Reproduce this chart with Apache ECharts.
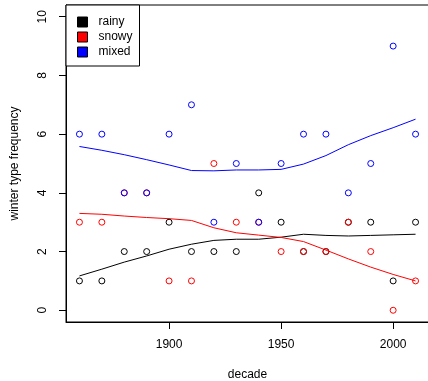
<!DOCTYPE html>
<html><head><meta charset="utf-8">
<script src="https://cdn.jsdelivr.net/npm/echarts@6/dist/echarts.min.js"></script>
<style>html,body{margin:0;padding:0;background:#fff}#c{width:428px;height:381px}</style>
</head><body><div id="c"></div>
<script>
const decades = [1860,1870,1880,1890,1900,1910,1920,1930,1940,1950,1960,1970,1980,1990,2000,2010];
const rainy = [1,1,2,2,3,2,2,2,4,3,2,2,3,3,1,3];
const snowy = [3,3,4,4,1,1,5,3,3,2,2,2,3,2,0,1];
const mixed = [6,6,4,4,6,7,3,5,3,5,6,6,4,5,9,6];
const rainyFit = [1.17,1.40,1.64,1.85,2.08,2.25,2.38,2.42,2.42,2.49,2.59,2.55,2.53,2.55,2.57,2.59];
const snowyFit = [3.30,3.27,3.21,3.16,3.12,3.06,2.81,2.64,2.56,2.48,2.34,2.05,1.75,1.47,1.22,1.00];
const mixedFit = [5.58,5.45,5.30,5.13,4.95,4.76,4.75,4.78,4.78,4.80,4.98,5.27,5.64,5.95,6.22,6.51];
const xTicks = [1900,1950,2000];
const yTicks = [0,2,4,6,8,10];
const names = ['rainy','snowy','mixed'];
const colors = ['#000000','#FF0000','#0000FF'];

const pts = a => decades.map((d,i)=>[d,a[i]]);
const FONT = 'Liberation Sans, Arial, sans-serif';
const chart = echarts.init(document.getElementById('c'), null, {renderer:'canvas'});
const ptsSeries = [rainy,snowy,mixed].map((a,k)=>({
  name: names[k], type:'scatter', data: pts(a), symbol:'circle', symbolSize:6,
  itemStyle:{color:'rgba(0,0,0,0)', borderColor:colors[k], borderWidth:1, opacity:1}, z:3+k, silent:true
}));
const fitSeries = [rainyFit,snowyFit,mixedFit].map((a,k)=>({
  name: names[k]+' fit', type:'line', data: pts(a), symbol:'none', smooth:false,
  lineStyle:{color:colors[k], width:1}, z:2, silent:true
}));
chart.setOption({
  animation:false,
  textStyle:{fontFamily:FONT},
  grid:{left:66, top:5, width:363, height:317, show:true, borderColor:'#000', borderWidth:1,
        backgroundColor:'transparent', containLabel:false, outerBoundsMode:'none'},
  legend:{
    left:66, top:5, orient:'vertical', backgroundColor:'#fff',
    borderColor:'#000', borderWidth:1, padding:[11,7,8,11], itemGap:3,
    itemWidth:10, itemHeight:10,
    textStyle:{fontSize:12, color:'#000', fontFamily:FONT, padding:[0,0,0,6]},
    data: names.map((n,k)=>({name:n, icon:'rect', itemStyle:{color:colors[k], borderColor:'#000', borderWidth:1}})),
    selectedMode:false
  },
  xAxis:{
    type:'value', min:1854, max:2016,
    name:'decade', nameLocation:'middle', nameGap:47,
    nameTextStyle:{fontSize:12, color:'#000', fontFamily:FONT},
    axisLine:{show:true, onZero:false, lineStyle:{color:'#000', width:1}},
    axisTick:{show:true, length:7, customValues:xTicks, lineStyle:{color:'#000'}},
    axisLabel:{customValues:xTicks, fontSize:12, color:'#000', margin:17, formatter:v=>String(v)},
    splitLine:{show:false}
  },
  yAxis:{
    type:'value', min:-0.4, max:10.4,
    name:'winter type frequency', nameLocation:'middle', nameGap:45, nameRotate:90,
    nameTextStyle:{fontSize:12, color:'#000', fontFamily:FONT},
    axisLine:{show:true, onZero:false, lineStyle:{color:'#000', width:1}},
    axisTick:{show:true, length:7, customValues:yTicks, lineStyle:{color:'#000'}},
    axisLabel:{customValues:yTicks, fontSize:12, color:'#000', margin:17, rotate:90, formatter:v=>String(v)},
    splitLine:{show:false}
  },
  series: fitSeries.concat(ptsSeries)
});
</script></body></html>
